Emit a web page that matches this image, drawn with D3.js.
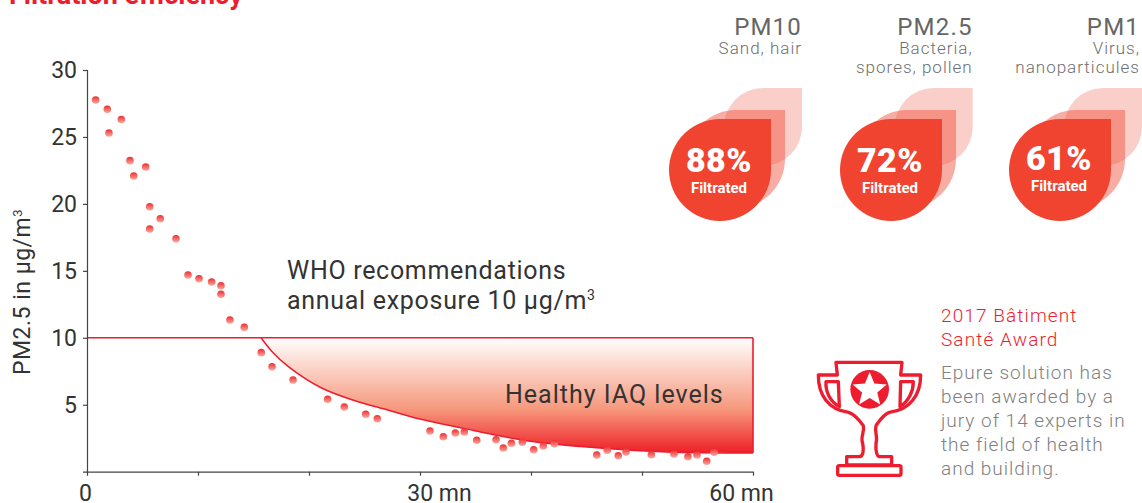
<!DOCTYPE html>
<html>
<head>
<meta charset="utf-8">
<script src="https://cdn.jsdelivr.net/npm/d3@7"></script>
<style>
  body { margin: 0; background: #fff; }
  svg { display: block; }
  text { font-family: Roboto, sans-serif; }
</style>
</head>
<body>
<svg id="chart" width="1142" height="503"></svg>
<script>
// readings, minutes after switching on
var minutes = [0.78, 1.83, 3.09, 1.98, 3.87, 5.29, 4.21, 5.65, 6.60, 5.65, 8.02, 9.10, 10.09, 11.23,
  12.07, 12.07, 12.88, 14.17, 15.70, 16.67, 18.56, 21.68, 23.18, 25.11, 26.15, 30.90, 32.10, 33.18,
  33.99, 35.11, 36.85, 37.50, 38.23, 39.22, 40.24, 41.11, 42.10, 45.92, 46.87, 47.86, 48.56, 50.84,
  52.88, 54.14, 54.95, 55.83, 56.49];
var pm25 = [27.76, 27.06, 26.30, 25.30, 23.23, 22.76, 22.08, 19.79, 18.89, 18.13, 17.40, 14.69, 14.41,
  14.17, 13.89, 13.25, 11.33, 10.78, 8.89, 7.84, 6.85, 5.41, 4.83, 4.29, 3.96, 3.04, 2.61, 2.89, 2.96,
  2.35, 2.39, 1.77, 2.12, 2.20, 1.64, 1.92, 2.09, 1.25, 1.60, 1.19, 1.47, 1.27, 1.32, 1.12, 1.25, 0.78, 1.45];

// lower edge of the healthy zone
var limitMinutes = [15.68, 16.64, 18.14, 21.14, 24.14, 27.08, 30.09, 34.95, 39.6, 46.2, 52.2, 60];
var limitLevels = [10, 9.0, 7.85, 6.25, 5.30, 4.61, 3.91, 3.06, 2.32, 1.77, 1.47, 1.4];
var whoLimit = 10;

var yTicks = [5, 10, 15, 20, 25, 30];
var xTicks = [0, 10, 20, 30, 40, 50, 60];
var xLabels = { 0: "0", 30: "30 mn", 60: "60 mn" };

var pmNames = ["PM10", "PM2.5", "PM1"];
var pmNotes = [["Sand, hair"], ["Bacteria,", "spores, pollen"], ["Virus,", "nanoparticules"]];
var pmFiltered = [88, 72, 61];

var awardTitle = ["2017 Bâtiment", "Santé Award"];
var awardBody = ["Epure solution has", "been awarded by a", "jury of 14 experts in", "the field of health", "and building."];

var RED = "#ed1c2e", DROP = "#f04430", INK = "#333";

var svg = d3.select("#chart");
var x = d3.scaleLinear().domain([0, 60]).range([87, 753]);
var y = d3.scaleLinear().domain([0, 30]).range([471.7, 70]);

var defs = svg.append("defs");
var zone = defs.append("linearGradient").attr("id", "zoneFill").attr("x1", 0).attr("y1", 0).attr("x2", 0).attr("y2", 1);
zone.append("stop").attr("offset", 0).attr("stop-color", "#ffffff");
zone.append("stop").attr("offset", 0.62).attr("stop-color", "#f6987c");
zone.append("stop").attr("offset", 1).attr("stop-color", "#ee1f26");
var dot = defs.append("linearGradient").attr("id", "dotFill").attr("x1", 0).attr("y1", 0).attr("x2", 0).attr("y2", 1);
dot.append("stop").attr("offset", 0).attr("stop-color", "#ee2c30");
dot.append("stop").attr("offset", 1).attr("stop-color", "#fba99c");

// title is cut by the top of the picture
svg.append("text").attr("x", 9).attr("y", 4).attr("fill", RED)
  .style("font-size", "27px").style("font-weight", 700).text("Filtration efficiency");

// healthy zone
var zonePoints = limitMinutes.map(function (m, i) { return [m, limitLevels[i]]; });
var edge = d3.line().x(function (d) { return x(d[0]); }).y(function (d) { return y(d[1]); }).curve(d3.curveCatmullRom);
var zonePath = edge(zonePoints) + "V" + y(whoLimit) + "H" + x(limitMinutes[0]) + "Z";
svg.append("path").attr("d", zonePath).attr("fill", "url(#zoneFill)");
svg.append("path").attr("d", edge(zonePoints)).attr("fill", "none").attr("stroke", RED).attr("stroke-width", 1.5);
svg.append("line").attr("x1", x(0)).attr("x2", x(60)).attr("y1", y(whoLimit)).attr("y2", y(whoLimit))
  .attr("stroke", RED).attr("stroke-width", 1.6);
svg.append("line").attr("x1", x(60)).attr("x2", x(60)).attr("y1", y(whoLimit)).attr("y2", y(1.4))
  .attr("stroke", RED).attr("stroke-width", 1.6);

// axes
var yAxis = svg.append("g").attr("transform", "translate(" + x(0) + ",0)")
  .call(d3.axisLeft(y).tickValues(yTicks).tickSize(4).tickPadding(6).tickSizeOuter(4));
var xAxis = svg.append("g").attr("transform", "translate(0," + y(0) + ")")
  .call(d3.axisBottom(x).tickValues(xTicks).tickSize(4).tickSizeOuter(0)
    .tickFormat(function (d) { return xLabels[d] || ""; }));
[yAxis, xAxis].forEach(function (a) {
  a.selectAll("path, line").attr("stroke", "#444").attr("stroke-width", 1.2);
  a.selectAll("text").attr("fill", INK).style("font-family", "Roboto, sans-serif")
    .style("font-size", "23px").style("font-weight", 400);
});
xAxis.selectAll("text").attr("y", 29.5).attr("dy", 0)
  .attr("dx", function (d) { return d === 0 ? -2 : d === 30 ? 19 : d === 60 ? -12 : 0; });

var yTitle = svg.append("text").attr("transform", "translate(30,292) rotate(-90)").attr("text-anchor", "middle")
  .attr("fill", INK).style("font-size", "23px").style("font-weight", 400).style("letter-spacing", "0.5px")
  .text("PM2.5 in µg/m");
yTitle.append("tspan").attr("dy", -8).style("font-size", "13px").text("3");

// readings
svg.append("g").selectAll("circle").data(minutes).join("circle")
  .attr("cx", function (d) { return x(d); })
  .attr("cy", function (d, i) { return y(pm25[i]); })
  .attr("r", 3.8)
  .attr("fill", "url(#dotFill)");

// annotations
var who = svg.append("text").attr("fill", INK).style("font-size", "25px").style("font-weight", 400)
  .style("letter-spacing", "0.7px");
who.append("tspan").attr("x", 287).attr("y", 279).text("WHO recommendations");
who.append("tspan").attr("x", 287).attr("y", 309).text("annual exposure 10 µg/m");
who.append("tspan").attr("dy", -9).style("font-size", "14px").text("3");
svg.append("text").attr("x", 505).attr("y", 403).attr("fill", INK)
  .style("font-size", "25px").style("font-weight", 400).style("letter-spacing", "1px").text("Healthy IAQ levels");

// drop with a square top right corner, given by that corner and its radius
function dropPath(cx, cy, r) {
  return "M" + cx + " " + cy + "V" + (cy + r) + "A" + r + " " + r + " 0 1 1 " + (cx - r) + " " + cy + "Z";
}

var backX = [802, 972.7, 1142], middleX = [785, 956, 1125], frontX = [771, 942, 1111];
var percentY = [172, 172, 170];

pmNames.forEach(function (name, i) {
  var g = svg.append("g");
  var right = Math.min(backX[i], 1140);
  g.append("text").attr("x", right).attr("y", 35).attr("text-anchor", "end")
    .attr("fill", "#666").style("font-size", "24px").style("letter-spacing", "1.2px").text(name);
  pmNotes[i].forEach(function (note, k) {
    g.append("text").attr("x", right).attr("y", 54 + k * 19).attr("text-anchor", "end")
      .attr("fill", "#6e6e6e").style("font-size", "17px").style("font-weight", 300).style("letter-spacing", "1px").text(note);
  });
  g.append("path").attr("d", dropPath(backX[i], 88, 39)).attr("fill", DROP).attr("fill-opacity", 0.26);
  g.append("path").attr("d", dropPath(middleX[i], 110, 49)).attr("fill", DROP).attr("fill-opacity", 0.44);
  g.append("path").attr("d", dropPath(frontX[i], 119, 51)).attr("fill", DROP);
  g.append("text").attr("x", frontX[i] - 52).attr("y", percentY[i]).attr("text-anchor", "middle")
    .attr("fill", "#fff").style("font-size", "34px").style("font-weight", 900).style("letter-spacing", "0.5px").text(pmFiltered[i] + "%");
  g.append("text").attr("x", frontX[i] - 52).attr("y", percentY[i] + 21).attr("text-anchor", "middle")
    .attr("fill", "#fff").style("font-size", "15px").style("font-weight", 700).text("Filtrated");
});

// award
awardTitle.forEach(function (t, i) {
  svg.append("text").attr("x", 941).attr("y", 321.5 + i * 24).attr("fill", RED)
    .style("font-size", "19px").style("font-weight", 300).style("letter-spacing", "1.1px").text(t);
});
awardBody.forEach(function (t, i) {
  svg.append("text").attr("x", 941).attr("y", 379 + i * 24).attr("fill", "#808080")
    .style("font-size", "19px").style("font-weight", 300).style("letter-spacing", "1px").text(t);
});

var cup = svg.append("g").attr("transform", "translate(800,295) scale(0.3333)")
  .attr("fill", "none").attr("stroke", RED).attr("stroke-width", 10).attr("stroke-linejoin", "round");
cup.append("path").attr("d", "M108 202H306L302 240H362C362 300 330 345 268 352C250 358 240 375 228 392"
  + "C222 410 235 425 228 445C226 470 232 485 238 485H275V510H140V485H178C190 485 192 465 188 445"
  + "C180 425 195 410 190 392C178 375 165 358 146 352C85 345 55 300 55 240H112Z");
cup.append("path").attr("d", "M115 260H78C76 290 90 320 118 335Z");
cup.append("path").attr("d", "M302 260H340C340 290 325 320 300 335Z");
cup.append("rect").attr("x", 113).attr("y", 512).attr("width", 190).attr("height", 29).attr("rx", 5);
cup.append("circle").attr("cx", 209).attr("cy", 283).attr("r", 58).attr("fill", RED).attr("stroke", "none");
var star = d3.range(10).map(function (k) {
  var r = k % 2 ? 24 : 54, a = Math.PI * k / 5;
  return [209 + r * Math.sin(a), 285 - r * Math.cos(a)];
});
cup.append("path").attr("d", d3.line()(star) + "Z").attr("fill", "#fff").attr("stroke", "none");
</script>
</body>
</html>
